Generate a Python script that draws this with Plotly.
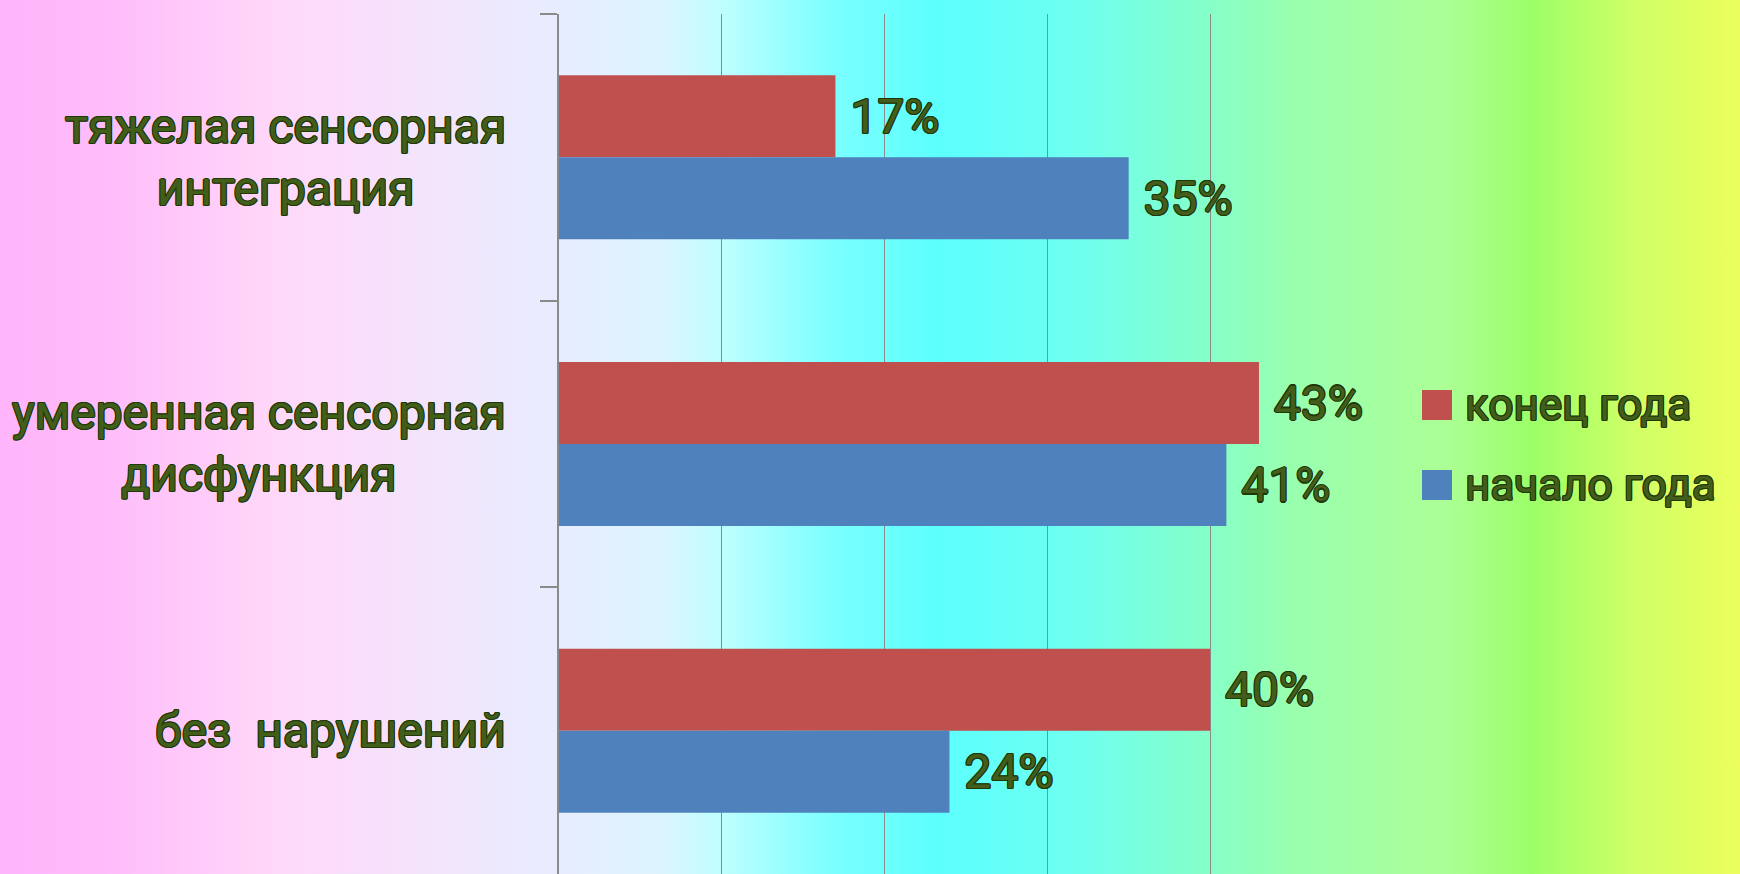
import base64
import plotly.graph_objects as go

# ---------------- data ----------------
categories = ["тяжелая сенсорная интеграция",
              "умеренная сенсорная дисфункция",
              "без  нарушений"]
category_labels = ["тяжелая сенсорная<br>интеграция",
                   "умеренная сенсорная<br>дисфункция",
                   "без\u00a0 нарушений"]
series_names = ["конец года", "начало года"]
end_of_year = [17, 43, 40]
start_of_year = [35, 41, 24]
series_values = [end_of_year, start_of_year]
series_colors = ["#C0504D", "#4F81BD"]
x_ticks = [0, 10, 20, 30, 40, 50]

# ---------------- style ----------------
W, H = 1740, 874
FONT = "Roboto"
FILL = "#435d1b"
OUTL = "#1e3809"
offs = [(1.1, 0), (-1.1, 0), (0, 1.1), (0, -1.1),
        (0.8, 0.8), (-0.8, 0.8), (0.8, -0.8), (-0.8, -0.8)]
SHADOW = ", ".join(f"{dx}px {dy}px 0px {OUTL}" for dx, dy in offs)
txt_font = dict(family=FONT, size=48, color=FILL, shadow=SHADOW)
leg_font = dict(family=FONT, size=44, color=FILL, shadow=SHADOW)

stops = [(0.00, "#ffb4fb"), (0.06, "#ffbcfa"), (0.16, "#ffd8f9"),
         (0.26, "#f1e6fc"), (0.32, "#e8ecff"), (0.38, "#dcf5ff"),
         (0.415, "#befeff"), (0.48, "#7affff"), (0.54, "#5cfffd"),
         (0.62, "#6ffff0"), (0.68, "#80ffd0"), (0.74, "#98ffb0"),
         (0.83, "#acff96"), (0.88, "#9cff68"), (0.94, "#d0ff66"),
         (1.00, "#ecff5c")]
svg = ("<svg xmlns='http://www.w3.org/2000/svg' width='%d' height='%d' "
       "preserveAspectRatio='none'><defs><linearGradient id='g' x1='0' y1='0' "
       "x2='1' y2='0'>" % (W, H)
       + "".join(f"<stop offset='{o}' stop-color='{c}'/>" for o, c in stops)
       + "</linearGradient></defs><rect width='100%' height='100%' fill='url(#g)'/></svg>")
bg_src = "data:image/svg+xml;base64," + base64.b64encode(svg.encode()).decode()

fig = go.Figure()
for name, vals, col in zip(series_names, series_values, series_colors):
    fig.add_trace(go.Bar(
        y=categories, x=vals, name=name, orientation="h",
        marker=dict(color=col, line=dict(width=0)),
        texttemplate="\u00a0%{x}%", textposition="outside",
        textfont=txt_font, constraintext="none", cliponaxis=False,
        showlegend=False, hoverinfo="skip"))

grid = "#8a8a8a"
fig.update_layout(
    width=W, height=H,
    margin=dict(l=0, r=0, t=0, b=0),
    paper_bgcolor="rgba(0,0,0,0)", plot_bgcolor="rgba(0,0,0,0)",
    barmode="group", bargap=0.428, bargroupgap=0,
    font=dict(family=FONT),
    xaxis=dict(domain=[558.5 / W, 1373 / W], range=[0, 50],
               tickvals=x_ticks, showticklabels=False, ticks="",
               showgrid=True, gridcolor=grid, gridwidth=1.4,
               zeroline=False, showline=False),
    yaxis=dict(domain=[0, 1 - 14 / H], range=[2.5, -0.5],
               showticklabels=False, tickson="boundaries",
               ticks="outside", ticklen=17, tickwidth=1.6, tickcolor=grid,
               showline=True, linecolor=grid, linewidth=1.6,
               showgrid=False, zeroline=False),
    images=[dict(source=bg_src, xref="paper", yref="paper", x=0, y=1,
                 sizex=1, sizey=1, xanchor="left", yanchor="top",
                 sizing="stretch", layer="below")],
)

# category labels (centred lines, right-aligned block)
for cat, lab in zip(categories, category_labels):
    fig.add_annotation(x=508 / W, xref="paper", y=cat, yref="y",
                       text=lab, showarrow=False, xanchor="right",
                       yanchor="middle", align="center", font=txt_font)

# legend (manual, large swatches)
for i, (name, col) in enumerate(zip(series_names, series_colors)):
    yc = 405 + 80 * i
    fig.add_shape(type="rect", xref="paper", yref="paper",
                  x0=1422 / W, x1=1452 / W,
                  y0=1 - (yc + 15) / H, y1=1 - (yc - 15) / H,
                  fillcolor=col, line=dict(width=0))
    fig.add_annotation(x=1463 / W, xref="paper", y=1 - yc / H, yref="paper",
                       text=name, showarrow=False, xanchor="left",
                       yanchor="middle", font=leg_font)

fig.write_html("out.html",
               config={"displayModeBar": False},
               post_script="document.body.style.margin='0';"
                           "document.body.style.overflow='hidden';")
